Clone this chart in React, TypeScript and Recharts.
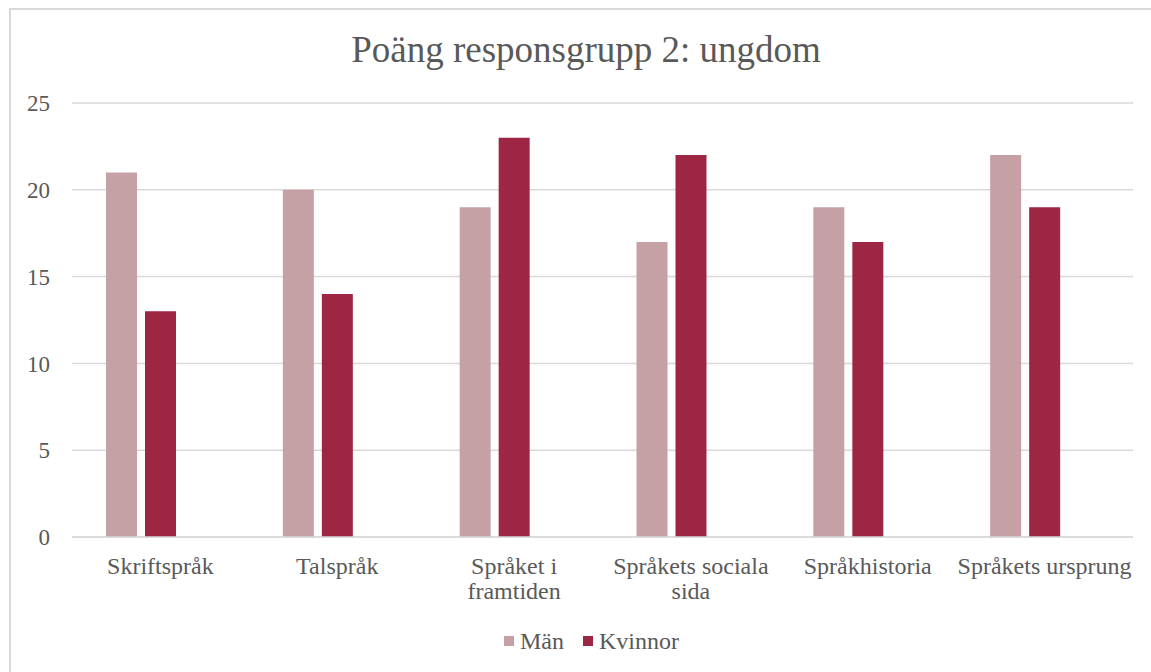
import { Bar, BarChart, CartesianGrid, XAxis, YAxis } from "recharts";

const categories = [
  "Skriftspråk",
  "Talspråk",
  "Språket i\nframtiden",
  "Språkets sociala\nsida",
  "Språkhistoria",
  "Språkets ursprung",
];
const man = [21, 20, 19, 17, 19, 22];
const kvinnor = [13, 14, 23, 22, 17, 19];
// Excel left room for an empty third series in every category
const empty = [null, null, null, null, null, null];
const yTicks = [0, 5, 10, 15, 20, 25];

const series = [
  { key: "man", name: "Män", color: "#c5a0a5" },
  { key: "kvinnor", name: "Kvinnor", color: "#9c2643" },
];

const data = categories.map((c, i) => ({
  cat: c,
  man: man[i],
  kvinnor: kvinnor[i],
  empty: empty[i],
}));

const FONT = '"Liberation Serif", "Times New Roman", serif';
const TEXT = "#595959";
const GRID = "#d9d9d9";

function CatTick({ x, y, payload }: any) {
  const lines = String(payload.value).split("\n");
  return (
    <text x={x} y={y} textAnchor="middle" fill={TEXT} fontFamily={FONT} fontSize={24}>
      {lines.map((l, i) => (
        <tspan key={i} x={x} dy={i === 0 ? 37 : 25}>
          {l}
        </tspan>
      ))}
    </text>
  );
}

export default function App() {
  return (
    <div
      style={{
        position: "absolute",
        left: 0,
        top: 0,
        width: 1151,
        height: 672,
        overflow: "hidden",
        background: "#fff",
        fontFamily: FONT,
      }}
    >
      <div
        style={{
          position: "absolute",
          left: 9,
          top: 8,
          width: 1200,
          height: 700,
          borderLeft: `2px solid ${GRID}`,
          borderTop: `2px solid ${GRID}`,
        }}
      />
      <div
        style={{
          position: "absolute",
          left: 0,
          top: 31,
          width: 1172,
          textAlign: "center",
          fontSize: 37,
          lineHeight: "37px",
          color: TEXT,
        }}
      >
        Poäng responsgrupp 2: ungdom
      </div>
      <div style={{ position: "absolute", left: 0, top: 0 }}>
        <BarChart
          width={1151}
          height={672}
          data={data}
          margin={{ top: 103, right: 18, bottom: 75, left: 0 }}
          barCategoryGap={34}
          barGap={8}
        >
          <CartesianGrid vertical={false} stroke={GRID} strokeWidth={1.5} />
          <XAxis
            dataKey="cat"
            height={60}
            tickLine={false}
            tickSize={0}
            tickMargin={0}
            axisLine={{ stroke: GRID, strokeWidth: 1.5 }}
            tick={<CatTick />}
            interval={0}
          />
          <YAxis
            width={72}
            domain={[0, 25]}
            ticks={yTicks}
            axisLine={false}
            tickLine={false}
            tickSize={0}
            tickMargin={22}
            tick={{ fill: TEXT, fontFamily: FONT, fontSize: 23 }}
          />
          {series.map((s) => (
            <Bar key={s.key} dataKey={s.key} name={s.name} fill={s.color} isAnimationActive={false} />
          ))}
          <Bar dataKey="empty" legendType="none" fill="none" isAnimationActive={false} />
        </BarChart>
      </div>
      <div
        style={{
          position: "absolute",
          left: 0,
          top: 628,
          width: 1183,
          display: "flex",
          justifyContent: "center",
          gap: 19,
          fontSize: 24,
          lineHeight: "26px",
          color: TEXT,
        }}
      >
        {series.map((s) => (
          <div key={s.key} style={{ display: "flex", alignItems: "center" }}>
            <span
              style={{ display: "inline-block", width: 10, height: 10, background: s.color, marginRight: 6 }}
            />
            {s.name}
          </div>
        ))}
      </div>
    </div>
  );
}
